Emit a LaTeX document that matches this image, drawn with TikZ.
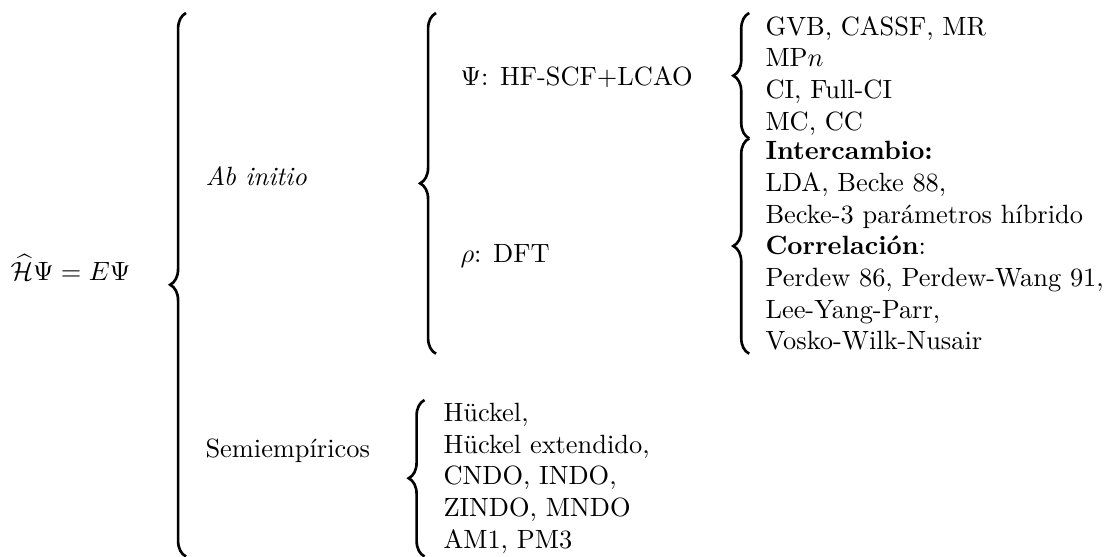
\documentclass[tikz,border=0pt]{standalone}
\usepackage{amsmath,amssymb}
\usepackage{tikz}
\usetikzlibrary{decorations.pathreplacing}

\tikzset{
  llave/.style={decorate, decoration={brace, amplitude=#1}, line width=1pt},
  llave/.default=6pt,
  lista/.style={align=left, anchor=north west, inner xsep=0pt, inner ysep=1pt, font=\fontsize{10}{12}\selectfont},
  rotulo/.style={anchor=base west, inner sep=0pt},
}

\begin{document}
\begin{tikzpicture}[x=0.3788pt, y=-0.3788pt]
\useasboundingbox (0,0) rectangle (1108,556);
\node[rotulo] (ec) at (10,280) {$\widehat{\mathcal{H}}\Psi = E\Psi$};
\node[rotulo] (ab) at (205,185) {\textit{Ab initio}};
\node[rotulo] (semi) at (205,457) {Semiempíricos};
\node[rotulo] (hf) at (460,85) {$\Psi$: HF-SCF+LCAO};
\node[rotulo] (dft) at (460,262) {$\rho$: DFT};
\node[lista] (psilista) at (765,13) {GVB, CASSF, MR\\ MP$n$\\ CI, Full-CI\\ MC, CC};
\node[lista] (rholista) at (psilista.south west) {\textbf{Intercambio:}\\ LDA, Becke 88,\\ Becke-3 parámetros híbrido\\ \textbf{Correlación}:\\ Perdew 86, Perdew-Wang 91,\\ Lee-Yang-Parr,\\ Vosko-Wilk-Nusair};
\node[lista] (semilista) at (443,400) {Hückel,\\ Hückel extendido,\\ CNDO, INDO,\\ ZINDO, MNDO\\ AM1, PM3};
\coordinate (b1) at (186,0);
\coordinate (b2) at (436,0);
% llaves
\draw[llave] (b1 |- semilista.south) -- (b1 |- psilista.north);
\draw[llave] (b2 |- rholista.south) -- (b2 |- psilista.north);
\draw[llave] ([xshift=-6pt]psilista.south west) -- ([xshift=-6pt]psilista.north west);
\draw[llave] ([xshift=-6pt]rholista.south west) -- ([xshift=-6pt]rholista.north west);
\draw[llave] ([xshift=-7pt]semilista.south west) -- ([xshift=-7pt]semilista.north west);
\end{tikzpicture}
\end{document}
